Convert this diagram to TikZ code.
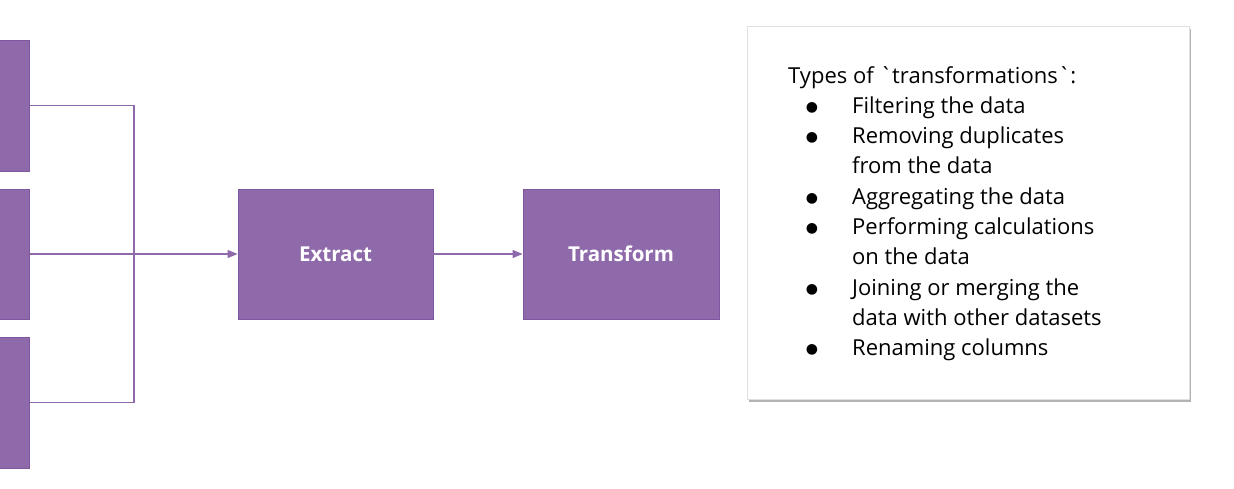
\documentclass[tikz,border=0pt]{standalone}
\usepackage{fontspec}
\setmainfont{Open Sans}
\newfontfamily\symfont{DejaVu Sans}
\usetikzlibrary{arrows.meta,shadows}
\definecolor{purp}{RGB}{143,106,170}
\definecolor{purpdark}{RGB}{126,87,160}
\tikzset{
  pbox/.style={draw=purpdark, line width=0.8pt, fill=purp, inner sep=0pt},
  conn/.style={draw=purp, line width=1.1pt},
  arr/.style={conn, -{Triangle[length=10pt,width=8pt]}},
  lbl/.style={font=\fontsize{20.5}{24}\selectfont\bfseries, text=white},
  ln/.style={anchor=base west, inner sep=0pt, font=\fontsize{22}{26}\selectfont},
  bul/.style={anchor=base, inner sep=0pt, yshift=2pt, font=\symfont\fontsize{14}{16}\selectfont},
}
\begin{document}
\begin{tikzpicture}[x=1pt,y=-1pt]
\useasboundingbox (0,0) rectangle (1234,488);
% source boxes
\node[pbox, minimum width=32pt, minimum height=131pt, anchor=east] (s1) at (30,105.5) {};
\node[pbox, minimum width=32pt, minimum height=130pt, anchor=east] (s2) at (30,254) {};
\node[pbox, minimum width=32pt, minimum height=131pt, anchor=east] (s3) at (30,402.5) {};
% main boxes
\node[pbox, minimum width=195pt, minimum height=130pt, lbl] (ex) at (335.5,254) {Extract};
\node[pbox, minimum width=196pt, minimum height=130pt, lbl] (tr) at (621,254) {Transform};
\coordinate (j) at (134,254);
\draw[conn] (s1.east) -| (j);
\draw[conn] (s3.east) -| (j);
\draw[arr] (s2.east) -- (ex.west);
\draw[arr] (ex.east) -- (tr.west);
% note box
\node[draw=black!12, fill=white, line width=0.5pt, minimum width=442pt, minimum height=373pt, anchor=north west,
  drop shadow={shadow xshift=2pt, shadow yshift=-3pt, fill=black!50, opacity=0.6}] (note) at (747,26) {};
\node[ln] (t0) at (788,83) {Types of \textasciigrave transformations\textasciigrave:};
\node[bul] (b1) at (812,113) {●};
\node[ln] (t1) at (852,113) {Filtering the data};
\node[bul] (b2) at (812,143.5) {●};
\node[ln] (t2) at (852,143.5) {Removing duplicates};
\node[ln] (t3) at (852,173.5) {from the data};
\node[bul] (b4) at (812,204) {●};
\node[ln] (t4) at (852,204) {Aggregating the data};
\node[bul] (b5) at (812,234) {●};
\node[ln] (t5) at (852,234) {Performing calculations};
\node[ln] (t6) at (852,264.5) {on the data};
\node[bul] (b7) at (812,295) {●};
\node[ln] (t7) at (852,295) {Joining or merging the};
\node[ln] (t8) at (852,325) {data with other datasets};
\node[bul] (b9) at (812,355.5) {●};
\node[ln] (t9) at (852,355.5) {Renaming columns};
\end{tikzpicture}
\end{document}
